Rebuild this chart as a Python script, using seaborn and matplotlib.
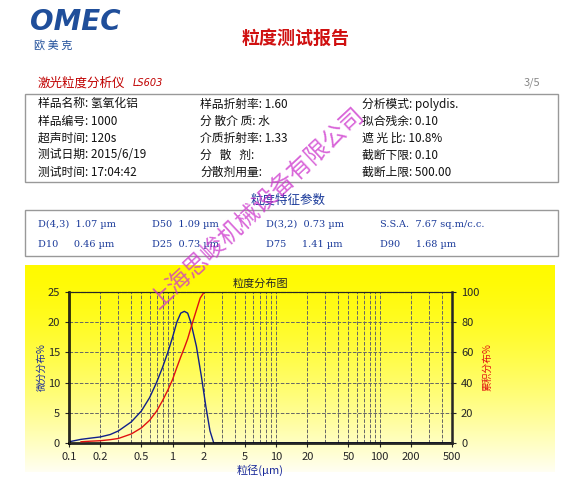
import matplotlib
matplotlib.use("Agg")
import matplotlib.pyplot as plt
import numpy as np
import pandas as pd
import seaborn as sns
from matplotlib.ticker import FixedLocator, NullFormatter

sns.set_style("white")
plt.rcParams['font.family'] = ['Noto Sans CJK SC', 'DejaVu Sans']

# data
freq_x = [0.1, 0.13, 0.16, 0.2, 0.25, 0.3, 0.4, 0.5, 0.6, 0.7, 0.8, 0.9, 1.0, 1.1, 1.2, 1.3, 1.4, 1.5, 1.7, 1.9, 2.1, 2.3, 2.5, 5, 50, 500]
freq_y = [0.2, 0.6, 0.8, 1.0, 1.4, 2.0, 3.5, 5.3, 7.5, 10, 12.5, 15, 17.5, 20, 21.5, 21.8, 21.5, 20, 16, 11, 6, 2, 0, 0, 0, 0]
cum_x = [0.13, 0.16, 0.2, 0.25, 0.3, 0.4, 0.5, 0.6, 0.7, 0.8, 0.9, 1.0, 1.1, 1.2, 1.3, 1.4, 1.5, 1.7, 1.85, 2.0, 2.1, 5, 50, 500]
cum_y = [0.8, 1.2, 1.5, 2.2, 3, 6, 10, 15, 21, 28, 35, 42, 50, 57, 63, 69, 76, 88, 96, 99.5, 100, 100, 100, 100]
xticks = [0.1, 0.2, 0.5, 1, 2, 5, 10, 20, 50, 100, 200, 500]
xtick_labels = ["0.1", "0.2", "0.5", "1", "2", "5", "10", "20", "50", "100", "200", "500"]
info_rows = [
    ("样品名称: 氢氧化铝", "样品折射率: 1.60", "分析模式: polydis."),
    ("样品编号: 1000", "分 散介 质: 水", "拟合残余: 0.10"),
    ("超声时间: 120s", "介质折射率: 1.33", "遮 光 比: 10.8%"),
    ("测试日期: 2015/6/19", "分   散   剂:", "截断下限: 0.10"),
    ("测试时间: 17:04:42", "分散剂用量:", "截断上限: 500.00"),
]
param_rows = [
    ("D(4,3)  1.07 µm", "D50  1.09 µm", "D(3,2)  0.73 µm", "S.S.A.  7.67 sq.m/c.c."),
    ("D10     0.46 µm", "D25  0.73 µm", "D75     1.41 µm", "D90     1.68 µm"),
]

W, H = 579, 486
fig = plt.figure(figsize=(W/100, H/100), dpi=100)
fig.patch.set_facecolor("white")

def fx(p): return p / W
def fy(p): return 1 - p / H

# header
fig.text(fx(30), fy(22), "OMEC", color="#1f4e9a", fontsize=20, fontweight="bold", style="italic", va="center", family="DejaVu Sans")
fig.text(fx(34), fy(45), "欧 美 克", color="#1f4e9a", fontsize=8, va="center")
fig.text(fx(296), fy(38), "粒度测试报告", color="#d01010", fontsize=13, fontweight="bold", ha="center", va="center")
fig.text(fx(38), fy(83), "激光粒度分析仪", color="#c00000", fontsize=9, va="center")
fig.text(fx(133), fy(83), "LS603", color="#c00000", fontsize=7, style="italic", va="center", family="DejaVu Sans")
fig.text(fx(540), fy(83), "3/5", color="#888888", fontsize=8, ha="right", va="center")

def box(y0, y1):
    fig.add_artist(plt.Rectangle((fx(25), fy(y1)), fx(533), (y1 - y0) / H, fill=False, ec="#999999", lw=1))

box(94, 182)
cols = [38, 200, 362]
for i, row in enumerate(info_rows):
    for c, t in zip(cols, row):
        fig.text(fx(c), fy(104 + i * 17), t, fontsize=8.5, va="center", color="#111111")
fig.text(fx(288), fy(200), "粒度特征参数", color="#1a3a9a", fontsize=9, ha="center", va="center")
box(210, 256)
pcols = [38, 152, 266, 380]
for i, row in enumerate(param_rows):
    for c, t in zip(pcols, row):
        fig.text(fx(c), fy(224 + i * 20), t, fontsize=7, va="center", color="#1a3a9a", family="DejaVu Serif")

# chart background gradient
bg = fig.add_axes([fx(25), fy(472), fx(530), (472 - 265) / H])
grad = np.linspace(0, 1, 256).reshape(-1, 1)
cols_rgb = np.zeros((256, 1, 3))
cols_rgb[..., 0] = 1
cols_rgb[..., 1] = 1 - 0.02 * (1 - grad)
cols_rgb[..., 2] = 0.0 + 0.95 * grad ** 1.5
bg.imshow(cols_rgb, aspect="auto", extent=[0, 1, 0, 1])
bg.axis("off")

ax = fig.add_axes([fx(69), fy(443), fx(452 - 69), (443 - 292) / H])
ax.patch.set_alpha(0)
df1 = pd.DataFrame({"x": freq_x, "y": freq_y})
df2 = pd.DataFrame({"x": cum_x, "y": cum_y})
sns.lineplot(data=df1, x="x", y="y", ax=ax, color="#10208a", lw=1)
ax.set_xscale("log")
ax.set_xlim(0.1, 500)
ax.set_ylim(0, 25)
ax.set_yticks([0, 5, 10, 15, 20, 25])
ax.xaxis.set_major_locator(FixedLocator(xticks))
ax.set_xticklabels(xtick_labels)
minors = [m * 10.0 ** e for e in range(-1, 3) for m in range(1, 10)]
ax.xaxis.set_minor_locator(FixedLocator([v for v in minors if v not in xticks and v <= 500]))
ax.xaxis.set_minor_formatter(NullFormatter())
ax.grid(True, which="both", axis="x", color="#666666", ls="--", lw=0.7)
ax.grid(True, which="major", axis="y", color="#666666", ls="--", lw=0.7)
for s in ["left", "bottom"]:
    ax.spines[s].set_linewidth(1.8)
    ax.spines[s].set_color("black")
ax.spines["top"].set_linestyle("--")
ax.spines["top"].set_color("black")
ax.tick_params(labelsize=8, length=3, direction="out", bottom=True, left=True)
ax.set_xlabel("粒径(µm)", color="#1a2a9a", fontsize=8, labelpad=2)
ax.set_ylabel("微分分布%", color="#1a2a9a", fontsize=7, labelpad=1, style="italic")
ax.set_title("粒度分布图", fontsize=8, pad=4)

ax2 = ax.twinx()
sns.lineplot(data=df2, x="x", y="y", ax=ax2, color="#e01010", lw=1)
ax2.set_ylim(0, 100)
ax2.set_yticks([0, 20, 40, 60, 80, 100])
ax2.spines["right"].set_linewidth(1.8)
ax2.tick_params(labelsize=8, length=3, right=True)
ax2.set_ylabel("累积分布%", color="#e01010", fontsize=7, labelpad=2, style="italic")
ax2.set_xlabel("")

# watermark
fig.text(fx(258), fy(208), "上海思峻机械设备有限公司", color="#cc33cc", alpha=0.75, fontsize=17,
         rotation=43, ha="center", va="center")

fig.savefig("out.png", dpi=100)
